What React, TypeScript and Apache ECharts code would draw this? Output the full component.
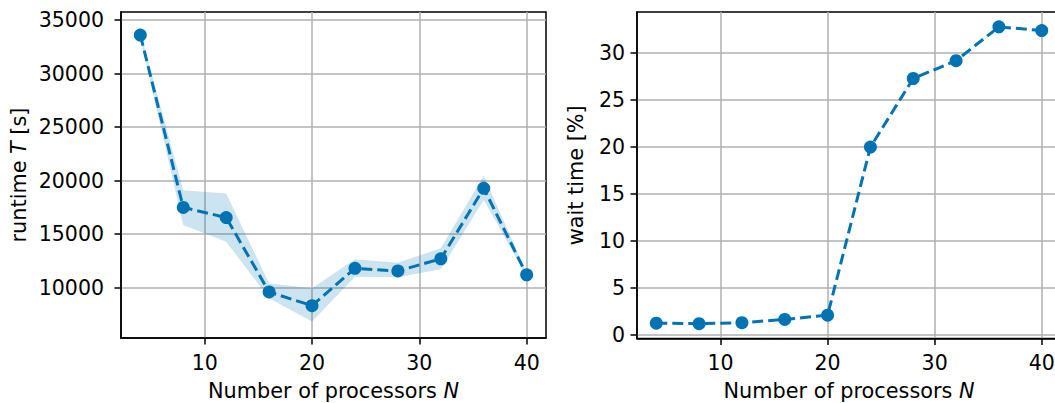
import React, { useEffect, useRef } from "react";
import * as echarts from "echarts";

// Number of processors
const processors = [4, 8, 12, 16, 20, 24, 28, 32, 36, 40];
// Mean runtime T [s] with its spread band
const runtimeMean = [33600, 17500, 16550, 9600, 8320, 11810, 11560, 12700, 19280, 11200];
const runtimeUpper = [33900, 19100, 18800, 10400, 9950, 12650, 12330, 13680, 20460, 11350];
const runtimeLower = [33300, 15850, 14300, 9010, 6830, 11030, 10970, 11720, 18190, 11050];
// Wait time share [%]
const waitTime = [1.25, 1.2, 1.3, 1.65, 2.1, 20.0, 27.3, 29.2, 32.8, 32.4];

// Tick positions
const xTicks = [10, 20, 30, 40];
const runtimeTicks = [10000, 15000, 20000, 25000, 30000, 35000];
const waitTicks = [0, 5, 10, 15, 20, 25, 30];

const BLUE = "#0173B2";
const FONT = "DejaVu Sans";
const TICK_SIZE = 20.5;
const LABEL_SIZE = 20.8;

function valueAxis(
  gridIndex: number,
  min: number,
  max: number,
  ticks: number[],
  name: string,
  nameGap: number,
  labelMargin: number
) {
  return {
    type: "value",
    gridIndex,
    min,
    max,
    name,
    nameLocation: "middle",
    nameGap,
    nameTextStyle: {
      fontFamily: FONT,
      fontSize: LABEL_SIZE,
      color: "#000",
      rich: {
        i: { fontFamily: FONT, fontSize: LABEL_SIZE, fontStyle: "italic", color: "#000" },
      },
    },
    axisLine: { show: true, onZero: false, lineStyle: { color: "#000", width: 1.5 } },
    axisTick: {
      show: true,
      length: 6.5,
      customValues: ticks,
      lineStyle: { color: "#000", width: 1.5 },
    },
    axisLabel: {
      customValues: ticks,
      fontFamily: FONT,
      fontSize: TICK_SIZE,
      color: "#000",
      margin: labelMargin,
      formatter: (v: number) => String(v),
    },
    splitLine: { show: true, lineStyle: { color: "#b0b0b0", width: 1.5 } },
  };
}

export default function App() {
  const ref = useRef<HTMLDivElement>(null);

  useEffect(() => {
    if (!ref.current) return;
    const chart = echarts.init(ref.current, null, { renderer: "svg" });

    const runtimePairs = processors.map((x, i) => [x, runtimeMean[i]]);
    const waitPairs = processors.map((x, i) => [x, waitTime[i]]);

    const gridBox = {
      show: true,
      borderColor: "#000",
      borderWidth: 1.5,
      backgroundColor: "transparent",
      containLabel: false,
      outerBoundsMode: "none",
    };
    const dashed = { color: BLUE, width: 3, type: [11, 5] };

    chart.setOption({
      animation: false,
      textStyle: { fontFamily: FONT },
      grid: [
        { left: 121, top: 12, width: 425, height: 326, ...gridBox },
        { left: 637, top: 12, width: 424, height: 326.5, ...gridBox },
      ],
      xAxis: [
        valueAxis(0, 2.2, 41.8, xTicks, "Number of processors {i|N}", 42, 14),
        valueAxis(1, 2.2, 41.8, xTicks, "Number of processors {i|N}", 42, 14),
      ],
      yAxis: [
        valueAxis(0, 5300, 35750, runtimeTicks, "runtime {i|T} [s]", 92, 17),
        valueAxis(1, -0.38, 34.38, waitTicks, "wait time [%]", 51, 12),
      ],
      series: [
        {
          // shaded spread band of the runtime
          type: "custom",
          xAxisIndex: 0,
          yAxisIndex: 0,
          data: [[processors[0], runtimeMean[0]]],
          silent: true,
          z: 1,
          renderItem: (_params: any, api: any) => {
            const top = processors.map((x, i) => api.coord([x, runtimeUpper[i]]));
            const bottom = processors
              .map((x, i) => api.coord([x, runtimeLower[i]]))
              .reverse();
            return {
              type: "polygon",
              shape: { points: top.concat(bottom) },
              style: { fill: "rgba(1,115,178,0.2)", stroke: "none" },
            };
          },
        },
        {
          type: "line",
          xAxisIndex: 0,
          yAxisIndex: 0,
          data: runtimePairs,
          symbol: "circle",
          symbolSize: 13,
          z: 3,
          itemStyle: { color: BLUE },
          lineStyle: dashed,
        },
        {
          type: "line",
          xAxisIndex: 1,
          yAxisIndex: 1,
          data: waitPairs,
          symbol: "circle",
          symbolSize: 13,
          z: 3,
          itemStyle: { color: BLUE },
          lineStyle: dashed,
        },
      ],
    });

    return () => chart.dispose();
  }, []);

  return (
    <div
      ref={ref}
      style={{ position: "absolute", left: 0, top: 0, width: 1055, height: 403, background: "#fff" }}
    />
  );
}
